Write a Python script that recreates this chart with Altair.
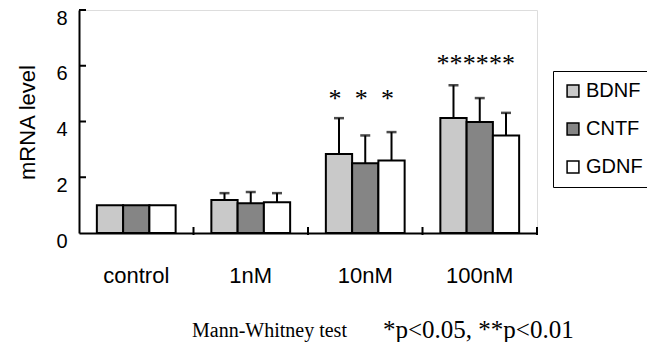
import altair as alt
import pandas as pd

groups = ["control", "1nM", "10nM", "100nM"]
genes = ["BDNF", "CNTF", "GDNF"]

bdnf_mean = [1.0, 1.18, 2.83, 4.13]
bdnf_err = [1.0, 1.43, 4.12, 5.30]
cntf_mean = [1.0, 1.07, 2.50, 3.98]
cntf_err = [1.0, 1.47, 3.50, 4.84]
gdnf_mean = [1.0, 1.10, 2.60, 3.50]
gdnf_err = [1.0, 1.43, 3.62, 4.31]

bdnf_star = ["", "", "*", "**"]
cntf_star = ["", "", "*", "**"]
gdnf_star = ["", "", "*", "**"]
star_level = [0, 0, 4.82, 6.08]

y_ticks = [2, 4, 6, 8]
colors = ["#c9c9c9", "#858585", "#ffffff"]

rows = []
for gene, means, errs, stars in [
    ("BDNF", bdnf_mean, bdnf_err, bdnf_star),
    ("CNTF", cntf_mean, cntf_err, cntf_star),
    ("GDNF", gdnf_mean, gdnf_err, gdnf_star),
]:
    for g, m, e, s, lv in zip(groups, means, errs, stars, star_level):
        rows.append({"group": g, "gene": gene, "value": m, "upper": e,
                     "star": s, "level": lv})
df = pd.DataFrame(rows)
df_err = df[df["upper"] > df["value"]]
df_star = df[df["star"] != ""]

W, H = 458, 223
FONT = "Liberation Sans"

xenc = alt.X("group:N", sort=groups,
             scale=alt.Scale(paddingInner=0, paddingOuter=0),
             axis=alt.Axis(title=None, labelAngle=0, labelFontSize=22,
                           labelFont=FONT, labelColor="black", labelPadding=32,
                           ticks=False, tickSize=0, domainColor="black",
                           domainWidth=2))
xoff = alt.XOffset("gene:N", sort=genes,
                   scale=alt.Scale(paddingInner=0, paddingOuter=0.68))
ydomain = alt.Scale(domain=[0, 8], nice=False)

bars = alt.Chart(df).mark_bar(stroke="black", strokeWidth=2).encode(
    x=xenc,
    xOffset=xoff,
    y=alt.Y("value:Q", scale=ydomain,
            axis=alt.Axis(values=[0, 2, 4, 6, 8], title="mRNA level",
                          titleFontSize=22, titleFont=FONT,
                          titleFontWeight="normal", titleColor="black",
                          titleX=-52, titleY=112, titleAngle=270,
                          titleAlign="center", titleBaseline="middle",
                          labelFontSize=20, labelFont=FONT, labelColor="black",
                          labelPadding=12, labelOffset=8, ticks=False,
                          tickSize=0, grid=False, domainColor="black",
                          domainWidth=2)),
    color=alt.Color("gene:N", sort=genes,
                    scale=alt.Scale(domain=genes, range=colors),
                    legend=alt.Legend(title=None, orient="none",
                                      legendX=474, legendY=61,
                                      symbolType="square", symbolSize=140,
                                      symbolStrokeColor="black",
                                      symbolStrokeWidth=1.5,
                                      labelFontSize=20, labelFont=FONT,
                                      labelColor="black", labelOffset=3,
                                      rowPadding=18, padding=10,
                                      strokeColor="black")),
)

err_line = alt.Chart(df_err).mark_rule(color="black", strokeWidth=2).encode(
    x=alt.X("group:N", sort=groups), xOffset=alt.XOffset("gene:N", sort=genes),
    y=alt.Y("value:Q", scale=ydomain), y2="upper:Q")

err_cap = alt.Chart(df_err).mark_tick(color="black", thickness=2.5, size=10,
                                      orient="horizontal").encode(
    x=alt.X("group:N", sort=groups), xOffset=alt.XOffset("gene:N", sort=genes),
    y=alt.Y("upper:Q", scale=ydomain))

stars = alt.Chart(df_star).mark_text(font="Liberation Serif", fontSize=26,
                                     color="black", dx=-4,
                                     baseline="middle").encode(
    x=alt.X("group:N", sort=groups), xOffset=alt.XOffset("gene:N", sort=genes),
    y=alt.Y("level:Q", scale=ydomain), text="star:N")

ytick_df = pd.DataFrame({"v": y_ticks})
yticks = alt.Chart(ytick_df).mark_rule(color="black", strokeWidth=2).encode(
    y=alt.Y("v:Q", scale=ydomain), x=alt.value(0), x2=alt.value(7))

xtick_df = pd.DataFrame({"group": groups})
xticks = alt.Chart(xtick_df).mark_rule(color="black", strokeWidth=2).encode(
    x=alt.X("group:N", sort=groups, bandPosition=1),
    y=alt.value(H - 6), y2=alt.value(H + 2))

foot1 = alt.Chart(pd.DataFrame({"t": ["Mann-Whitney test"]})).mark_text(
    font="Liberation Serif", fontSize=20, color="black", align="left",
    baseline="alphabetic").encode(x=alt.value(113), y=alt.value(327), text="t:N")
foot2 = alt.Chart(pd.DataFrame({"t": ["*p<0.05, **p<0.01"]})).mark_text(
    font="Liberation Serif", fontSize=25, color="black", align="left",
    baseline="alphabetic").encode(x=alt.value(304), y=alt.value(328), text="t:N")

chart = alt.layer(bars, err_line, err_cap, stars, yticks, xticks, foot1, foot2
                  ).properties(
    width=W, height=H,
    padding={"left": 71, "top": 2, "right": 110, "bottom": 109},
    autosize=alt.AutoSizeParams(type="none"),
).configure_view(stroke=None).configure(background="white")

chart.save("out.html", embed_options={"renderer": "svg", "actions": False})
